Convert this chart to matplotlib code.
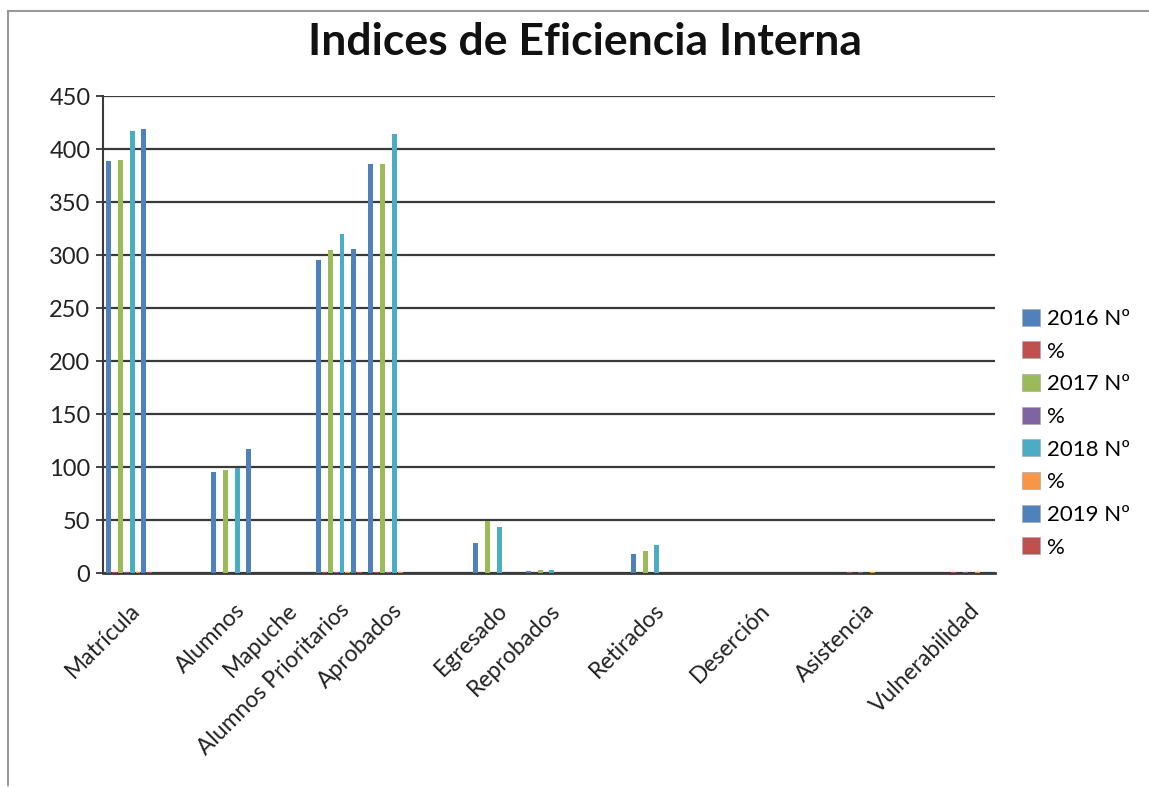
import numpy as np
import matplotlib.pyplot as plt
from matplotlib.lines import Line2D
from matplotlib.patches import Patch

nan = np.nan

# categorias (las vacias no tienen etiqueta en el original)
categorias = ['Matrícula', '', 'Alumnos', 'Mapuche', 'Alumnos Prioritarios', 'Aprobados', '',
              'Egresado', 'Reprobados', '', 'Retirados', '', 'Deserción', '', 'Asistencia', '',
              'Vulnerabilidad']

n2016 = [389, nan, 95, nan, 295, 386, nan, 28, 2, nan, 18, nan, nan, nan, nan, nan, nan]
p2016 = [1, nan, 0.2, nan, 0.7, 0.9, nan, 0.1, 0.01, nan, 0.05, nan, nan, nan, 0.9, nan, 0.9]
n2017 = [390, nan, 97, nan, 305, 386, nan, 49, 3, nan, 21, nan, nan, nan, nan, nan, nan]
p2017 = [1, nan, 0.2, nan, 0.8, 0.9, nan, 0.1, 0.01, nan, 0.05, nan, nan, nan, 0.9, nan, 0.9]
n2018 = [417, nan, 99, nan, 320, 414, nan, 43, 3, nan, 26, nan, nan, nan, nan, nan, nan]
p2018 = [1, nan, 0.2, nan, 0.8, 0.9, nan, 0.1, 0.01, nan, 0.06, nan, nan, nan, 0.9, nan, 0.9]
n2019 = [419, nan, 117, nan, 306, nan, nan, nan, nan, nan, nan, nan, nan, nan, nan, nan, nan]
p2019 = [1, nan, 0.3, nan, 0.7, nan, nan, nan, nan, nan, nan, nan, nan, nan, nan, nan, nan]

series = [n2016, p2016, n2017, p2017, n2018, p2018, n2019, p2019]
nombres = ['2016 Nº', '%', '2017 Nº', '%', '2018 Nº', '%', '2019 Nº', '%']
colores = ['#4F81BD', '#C0504D', '#9BBB59', '#8064A2', '#4BACC6', '#F79646', '#4F81BD', '#C0504D']

plt.rcParams['font.family'] = ['Lato', 'DejaVu Sans']

fig = plt.figure(figsize=(11.49, 7.87), dpi=100)
ax = fig.add_axes([0.0896, 0.2719, 0.7763, 0.6061])

x = np.arange(len(categorias))
slot = 0.112
for i, (vals, col) in enumerate(zip(series, colores)):
    ax.bar(x + (i - 3.5) * slot, vals, width=slot * 0.85, color=col, zorder=3)

ax.set_xlim(-0.5, len(categorias) - 0.5)
ax.set_ylim(0, 450)
ax.set_yticks(np.arange(0, 451, 50))
ax.yaxis.grid(True, color='#3a3a3a', lw=1.6)
ax.set_axisbelow(True)

ax.set_xticks(x)
ax.set_xticklabels(categorias, rotation=45, ha='right', va='top', rotation_mode='anchor',
                   fontsize=16.5, color='#222222')
ax.tick_params(axis='x', length=0, pad=19)
ax.tick_params(axis='y', labelsize=17, length=5, width=1.2, colors='#222222', pad=4)

for s in ['top', 'right']:
    ax.spines[s].set_visible(False)
ax.spines['left'].set_color('#3a3a3a')
ax.spines['left'].set_linewidth(1.5)
ax.spines['bottom'].set_color('#3a3a3a')
ax.spines['bottom'].set_linewidth(2)

fig.text(0.509, 0.947, 'Indices de Eficiencia Interna', ha='center', va='center',
         fontsize=32, fontweight='bold', color='#111111')

handles = [Patch(facecolor=c, edgecolor='#aaaaaa', lw=0.5) for c in colores]
fig.legend(handles, nombres, loc='upper left', bbox_to_anchor=(0.8724, 0.633),
           frameon=False, fontsize=16, handlelength=0.8, handleheight=0.8,
           handletextpad=0.3, labelspacing=0.56)

# borde del area del grafico (izquierda y arriba)
bx = 8 / 1149
by = 1 - 11 / 787
fig.add_artist(Line2D([bx, bx], [0.002, by], color='#999999', lw=1.5))
fig.add_artist(Line2D([bx, 1], [by, by], color='#999999', lw=1.5))

fig.savefig('out.png', dpi=100)
